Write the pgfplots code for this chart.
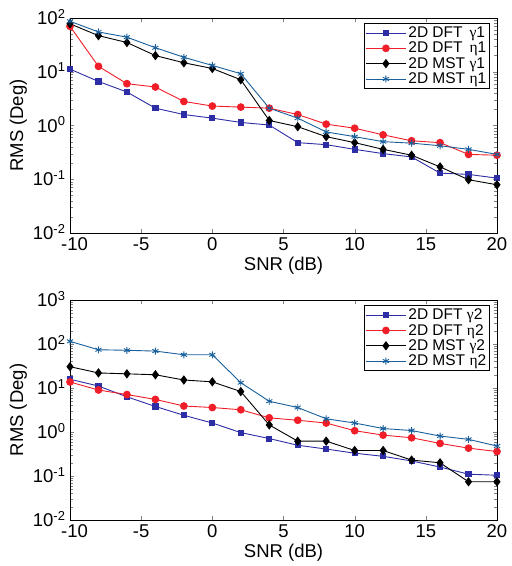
\documentclass[border=0pt]{standalone}
\usepackage{fontspec}
\setmainfont{Liberation Sans}
\newfontfamily\grk{Liberation Serif}
\usepackage{pgfplots}
\pgfplotsset{compat=1.18}
\definecolor{dftblue}{RGB}{45,45,165}
\definecolor{dftred}{RGB}{240,30,40}
\definecolor{mstblue}{RGB}{25,95,155}

\pgfplotstableread{
snr dftg dfte mstg mste
-10 11.2 70 78 87
-8 6.6 12.6 47 55
-6 4.2 6.0 35 44
-4 2.1 5.2 20 28
-2 1.6 2.8 14.7 18.6
0 1.37 2.3 11.5 13.1
2 1.14 2.2 7.1 9.2
4 1.02 2.1 1.24 2.1
6 0.48 1.6 0.95 1.37
8 0.44 1.06 0.62 0.76
10 0.36 0.89 0.48 0.62
12 0.30 0.67 0.36 0.50
14 0.26 0.52 0.28 0.47
16 0.13 0.48 0.17 0.42
18 0.123 0.29 0.098 0.36
20 0.105 0.28 0.079 0.29
}\topdata

\pgfplotstableread{
snr dftg dfte mstg mste
-10 15.8 13.7 30.5 115
-8 11.1 9.0 22 74
-6 6.3 7.1 21 72
-4 3.8 5.5 20 69
-2 2.4 3.9 15.2 57
0 1.6 3.6 13.8 57
2 0.97 3.2 8.3 13.2
4 0.71 2.1 1.45 5.0
6 0.50 1.85 0.62 3.6
8 0.41 1.6 0.62 2.0
10 0.33 1.07 0.38 1.6
12 0.28 0.85 0.38 1.2
14 0.22 0.74 0.23 1.08
16 0.16 0.55 0.20 0.81
18 0.11 0.43 0.074 0.68
20 0.104 0.36 0.074 0.48
}\botdata

\pgfplotsset{/pgfplots/rmsax/.style={
  scale only axis, width=427pt,
  xmin=-10, xmax=20, xtick={-10,-5,0,5,10,15,20},
  xticklabels={\hspace*{9pt}-10,-5,0,5,10,15,20},
  xlabel={SNR (dB)}, ylabel={RMS (Deg)},
  tick label style={font=\fontsize{18.5}{20}\selectfont},
  xticklabel style={yshift=-1pt},
  yticklabel style={xshift=-1pt, yshift=1pt},
  label style={font=\fontsize{18.5}{20}\selectfont},
  ylabel style={yshift=-1pt},
  legend cell align=left,
  legend style={at={(0.984,0.977)}, anchor=north east,
    font=\fontsize{15.5}{17}\selectfont, draw=black, thick,
    row sep=-1pt, inner sep=1.5pt},
  legend image code/.code={\draw[mark repeat=2,mark phase=2]
    plot coordinates {(0pt,0pt)(20pt,0pt)(40pt,0pt)};},
  every axis plot/.append style={line width=0.9pt},
}}

\begin{document}
\begin{tikzpicture}
\useasboundingbox (-70pt,18pt) rectangle (442pt,-548pt);
\begin{axis}[ymode=log, rmsax, at={(0,0)}, anchor=north west, height=215pt,
  ymin=0.01, ymax=100, ytick={0.01,0.1,1,10,100},
  yticklabels={10\textsuperscript{-2},10\textsuperscript{-1},10\textsuperscript{0},10\textsuperscript{1},10\textsuperscript{2}}]
 \addplot[dftblue, mark=square*, mark size=2.6pt] table[x=snr,y=dftg] {\topdata};
 \addplot[dftred, mark=*, mark size=3.4pt] table[x=snr,y=dfte] {\topdata};
 \addplot[black, mark=diamond*, mark size=4pt] table[x=snr,y=mstg] {\topdata};
 \addplot[mstblue, mark=asterisk, mark size=3.5pt] table[x=snr,y=mste] {\topdata};
 \legend{2D DFT\, {\grk γ}1, 2D DFT\, {\grk η}1, 2D MST {\grk γ}1, 2D MST {\grk η}1}
\end{axis}
\begin{axis}[ymode=log, rmsax, at={(0,-282pt)}, anchor=north west, height=220pt,
  ymin=0.01, ymax=1000, ytick={0.01,0.1,1,10,100,1000},
  yticklabels={10\textsuperscript{-2},10\textsuperscript{-1},10\textsuperscript{0},10\textsuperscript{1},10\textsuperscript{2},10\textsuperscript{3}}]
 \addplot[dftblue, mark=square*, mark size=2.6pt] table[x=snr,y=dftg] {\botdata};
 \addplot[dftred, mark=*, mark size=3.4pt] table[x=snr,y=dfte] {\botdata};
 \addplot[black, mark=diamond*, mark size=4pt] table[x=snr,y=mstg] {\botdata};
 \addplot[mstblue, mark=asterisk, mark size=3.5pt] table[x=snr,y=mste] {\botdata};
 \legend{2D DFT {\grk γ}2, 2D DFT {\grk η}2, 2D MST {\grk γ}2, 2D MST {\grk η}2}
\end{axis}
\end{tikzpicture}
\end{document}
